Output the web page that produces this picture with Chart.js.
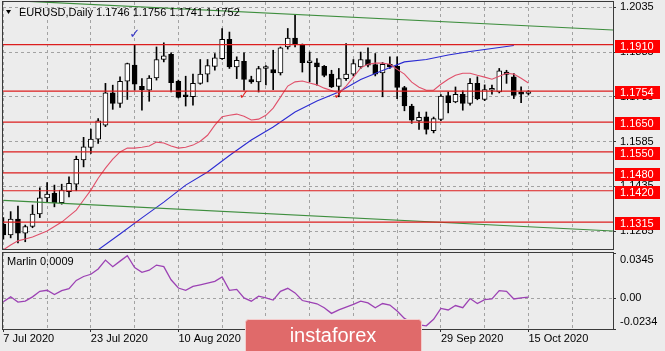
<!DOCTYPE html>
<html><head><meta charset="utf-8">
<script src="https://cdn.jsdelivr.net/npm/chart.js@4.4.1/dist/chart.umd.min.js"></script>
<style>
html,body{margin:0;padding:0;background:#ececec;width:665px;height:351px;overflow:hidden}
canvas{position:absolute;left:0;display:block}
#c1{top:0}
#c2{top:251px}
</style></head><body>
<canvas id="c1" width="665" height="251"></canvas>
<canvas id="c2" width="665" height="100"></canvas>
<script>
// ---- data ----
const opens  = [1.1308,1.1272,1.1325,1.1278,1.1300,1.1342,1.1396,1.1411,1.1380,1.1417,1.1442,1.1523,1.1565,1.1593,1.1640,1.1748,1.1713,1.1787,1.1841,1.1770,1.1757,1.1798,1.1860,1.1877,1.1787,1.1737,1.1735,1.1780,1.1811,1.1837,1.1863,1.1928,1.1835,1.1854,1.1793,1.1785,1.1830,1.1826,1.1815,1.1902,1.1932,1.1908,1.1849,1.1849,1.1837,1.1811,1.1770,1.1796,1.1811,1.1835,1.1860,1.1843,1.1815,1.1844,1.1837,1.1766,1.1704,1.1654,1.1668,1.1621,1.1659,1.1739,1.1718,1.1743,1.1713,1.1780,1.1726,1.1757,1.1751,1.1818,1.1802,1.1746,1.1746];
const highs  = [1.1330,1.1350,1.1369,1.1305,1.1372,1.1430,1.1447,1.1439,1.1442,1.1467,1.1536,1.1599,1.1627,1.1662,1.1780,1.1774,1.1802,1.1848,1.1908,1.1796,1.1806,1.1902,1.1916,1.1882,1.1791,1.1804,1.1811,1.1860,1.1860,1.1880,1.1964,1.1952,1.1869,1.1882,1.1804,1.1837,1.1840,1.1891,1.1902,1.1964,1.2008,1.1912,1.1885,1.1863,1.1840,1.1824,1.1830,1.1913,1.1860,1.1885,1.1899,1.1880,1.1850,1.1869,1.1869,1.1770,1.1710,1.1684,1.1684,1.1667,1.1742,1.1751,1.1768,1.1755,1.1796,1.1802,1.1775,1.1774,1.1830,1.1824,1.1813,1.1768,1.1756];
const lows   = [1.1258,1.1262,1.1245,1.1249,1.1296,1.1330,1.1383,1.1366,1.1375,1.1399,1.1420,1.1500,1.1545,1.1579,1.1635,1.1693,1.1699,1.1726,1.1757,1.1690,1.1720,1.1791,1.1852,1.1751,1.1731,1.1704,1.1707,1.1777,1.1785,1.1824,1.1860,1.1830,1.1796,1.1757,1.1780,1.1751,1.1775,1.1759,1.1808,1.1895,1.1902,1.1818,1.1785,1.1774,1.1802,1.1766,1.1735,1.1790,1.1805,1.1830,1.1835,1.1805,1.1735,1.1830,1.1729,1.1688,1.1646,1.1626,1.1610,1.1614,1.1655,1.1681,1.1715,1.1690,1.1707,1.1725,1.1722,1.1744,1.1748,1.1780,1.1729,1.1715,1.1741];
const closes = [1.1272,1.1325,1.1278,1.1300,1.1342,1.1396,1.1409,1.1380,1.1422,1.1445,1.1525,1.1567,1.1593,1.1654,1.1748,1.1713,1.1787,1.1846,1.1777,1.1759,1.1798,1.1860,1.1872,1.1782,1.1733,1.1735,1.1780,1.1811,1.1840,1.1866,1.1928,1.1835,1.1857,1.1793,1.1785,1.1830,1.1833,1.1815,1.1899,1.1932,1.1910,1.1849,1.1851,1.1835,1.1807,1.1768,1.1796,1.1811,1.1846,1.1860,1.1841,1.1811,1.1844,1.1835,1.1766,1.1704,1.1657,1.1666,1.1626,1.1662,1.1737,1.1715,1.1743,1.1713,1.1780,1.1729,1.1759,1.1758,1.1822,1.1810,1.1740,1.1744,1.1752];
const redLine = [1.1222,1.1238,1.1252,1.1258,1.1265,1.1275,1.1285,1.1300,1.1315,1.1335,1.1355,1.1389,1.1422,1.1462,1.1496,1.1526,1.1550,1.1563,1.1563,1.1566,1.1570,1.1583,1.1580,1.1570,1.1563,1.1566,1.1573,1.1586,1.1606,1.1640,1.1668,1.1673,1.1677,1.1670,1.1657,1.1660,1.1673,1.1697,1.1734,1.1771,1.1785,1.1788,1.1781,1.1775,1.1764,1.1756,1.1748,1.1771,1.1801,1.1832,1.1844,1.1848,1.1848,1.1844,1.1827,1.1811,1.1784,1.1767,1.1757,1.1757,1.1777,1.1794,1.1807,1.1814,1.1814,1.1807,1.1801,1.1794,1.1804,1.1814,1.1811,1.1797,1.1781];
const blueBars = [13,16,19,22,25,28,31,34,37,40,43,46,49,52,55,58,61,64,67,70];
const blueVals = [1.1222,1.1275,1.1329,1.1382,1.1439,1.1483,1.1538,1.1590,1.1634,1.1684,1.1721,1.1751,1.1793,1.1823,1.1852,1.1860,1.1875,1.1887,1.1897,1.1907];
const marlin = [-0.0027,0.0011,-0.0029,-0.0022,0.0011,0.0053,0.0061,0.0028,0.0058,0.0073,0.0136,0.0166,0.0183,0.0223,0.0291,0.0241,0.0283,0.0324,0.0234,0.0198,0.0214,0.0253,0.0241,0.0141,0.0078,0.0061,0.0091,0.0103,0.0116,0.0129,0.0163,0.0061,0.0068,0.0003,-0.0022,0.0016,0.0003,-0.0014,0.0053,0.0076,0.0041,-0.0017,-0.0029,-0.0042,-0.0072,-0.0115,-0.0089,-0.0067,-0.0047,-0.0022,-0.0035,-0.0072,-0.0040,-0.0052,-0.0097,-0.0153,-0.0185,-0.0202,-0.0210,-0.0160,-0.0077,-0.0089,-0.0055,-0.0072,-0.0002,-0.0040,-0.0010,-0.0005,0.0058,0.0053,-0.0005,0.0003,0.0009];
const levels = [1.1910,1.1754,1.1650,1.1550,1.1480,1.1420,1.1315];
const upperTrend = [[0,1.2059],[83.6,1.1959]];
const lowerTrend = [[0,1.1388],[83.6,1.1285]];
const blueChecks = [[18,1.1944]];
const redChecks = [[33,1.1738],[46,1.1738]];
const priceTicks = [1.1285,1.1435,1.1585,1.1735,1.1885,1.2035];
const marlinTicks = [-0.0234,0,0.0345];
const dateLabels = ['7 Jul 2020','23 Jul 2020','10 Aug 2020','26 Aug 2020','11 Sep 2020','29 Sep 2020','15 Oct 2020'];
const titleText = 'EURUSD,Daily 1.1746 1.1756 1.1741 1.1752';
const marlinTitle = 'Marlin 0.0009';

// ---- styling ----
const FONT = '"Liberation Sans", Arial, sans-serif';
Chart.defaults.font.family = FONT;
Chart.defaults.font.size = 11;
Chart.defaults.color = '#000';
const X_MIN = -0.05, X_MAX = 83.6;
const GRID = '#a2a2a2';
const DASH = [3, 3];
const noPad = s => { s.paddingTop = 0; s.paddingBottom = 0; s.paddingLeft = 0; s.paddingRight = 0; };

const frame = {
  id: 'frame',
  afterDraw(chart) {
    const {ctx, chartArea: a} = chart;
    ctx.save();
    ctx.strokeStyle = '#3a3a3a'; ctx.lineWidth = 1;
    ctx.strokeRect(Math.round(a.left) - 0.5, Math.round(a.top) - 0.5, Math.round(a.right - a.left) + 1, Math.round(a.bottom - a.top) + 1);
    ctx.restore();
  }
};

const mainDeco = {
  id: 'mainDeco',
  afterDatasetsDraw(chart) {
    const {ctx} = chart, xs = chart.scales.x, ys = chart.scales.y;
    ctx.save();
    ctx.font = 'bold 13px "DejaVu Sans"'; ctx.textAlign = 'center'; ctx.textBaseline = 'middle';
    ctx.fillStyle = '#3535c8';
    blueChecks.forEach(([i, p]) => ctx.fillText('\u2713', xs.getPixelForValue(i), ys.getPixelForValue(p)));
    ctx.fillStyle = '#e02020';
    redChecks.forEach(([i, p]) => ctx.fillText('\u2713', xs.getPixelForValue(i), ys.getPixelForValue(p)));
    ctx.restore();
  },
  afterDraw(chart) {
    const {ctx, chartArea: a} = chart, ys = chart.scales.y;
    ctx.save();
    ctx.fillStyle = '#000';
    ctx.beginPath(); ctx.moveTo(6, 10); ctx.lineTo(11, 10); ctx.lineTo(8.5, 14); ctx.closePath(); ctx.fill();
    ctx.font = '11px ' + FONT; ctx.textBaseline = 'middle'; ctx.textAlign = 'left';
    ctx.fillText(titleText, 19, 12.5);
    levels.forEach(l => {
      const y = Math.round(ys.getPixelForValue(l));
      ctx.fillStyle = '#ff0000';
      ctx.fillRect(a.right + 2, y - 5, 45, 13);
      ctx.fillStyle = '#ffffff';
      ctx.fillText(l.toFixed(4), a.right + 7, y + 1.5);
    });
    ctx.restore();
  }
};

const levelSets = levels.map(l => ({
  type: 'line', data: [{x: X_MIN - 1, y: l}, {x: X_MAX + 1, y: l}],
  borderColor: '#dc1e1e', borderWidth: 1.2, pointRadius: 0, order: 1
}));

const trendSet = (pts) => ({
  type: 'line', data: pts.map(([i, p]) => ({x: i, y: p})),
  borderColor: '#3e8e3e', borderWidth: 1.2, pointRadius: 0, order: 2
});

const gridOpts = (extra) => Object.assign({display: true, drawOnChartArea: true, color: GRID, lineWidth: 1, offset: false}, extra);

new Chart(document.getElementById('c1'), {
  type: 'bar',
  data: {
    datasets: [
      { data: lows.map((l, i) => ({x: i, y: [l, highs[i]]})), backgroundColor: '#000', borderWidth: 0,
        barThickness: 1, grouped: false, order: 6 },
      { data: opens.map((o, i) => ({x: i, y: [o, closes[i]]})),
        backgroundColor: opens.map((o, i) => closes[i] >= o ? '#ffffff' : '#000000'),
        borderColor: '#000', borderWidth: 1, borderSkipped: false, barThickness: 5, minBarLength: 2,
        grouped: false, order: 5 },
      { type: 'line', data: redLine.map((v, i) => ({x: i, y: v})), borderColor: '#e0506a', borderWidth: 1.1, pointRadius: 0, order: 3 },
      { type: 'line', data: blueBars.map((i, k) => ({x: i, y: blueVals[k]})), borderColor: '#2b2bd2', borderWidth: 1.1, pointRadius: 0, order: 3 },
      trendSet(upperTrend), trendSet(lowerTrend),
      ...levelSets
    ]
  },
  options: {
    responsive: false, animation: false, events: [],
    layout: {padding: {left: 3, top: 2, right: 0, bottom: 2}},
    plugins: {legend: {display: false}, tooltip: {enabled: false}},
    scales: {
      x: { type: 'linear', display: true, min: X_MIN, max: X_MAX, offset: false,
        ticks: {display: false, stepSize: 6, includeBounds: false},
        grid: gridOpts({drawTicks: false}),
        border: {display: false, dash: DASH},
        afterFit: s => { s.height = 0; noPad(s); } },
      y: { position: 'right', min: 1.12247, max: 1.20528,
        afterBuildTicks: s => { s.ticks = priceTicks.map(v => ({value: v})); },
        ticks: {callback: v => v.toFixed(4), padding: 4, color: '#000', font: {size: 11}},
        grid: gridOpts({tickLength: 3, tickColor: '#333'}),
        border: {display: false, dash: DASH},
        afterFit: s => { s.width = 52; noPad(s); } }
    }
  },
  plugins: [frame, mainDeco]
});

const lowerDeco = {
  id: 'lowerDeco',
  afterDraw(chart) {
    const {ctx} = chart;
    ctx.save();
    ctx.fillStyle = '#000'; ctx.font = '11px ' + FONT; ctx.textBaseline = 'middle'; ctx.textAlign = 'left';
    ctx.fillText(marlinTitle, 7, 11);
    ctx.beginPath();
    if (ctx.roundRect) ctx.roundRect(245.5, 68.5, 176, 40, 3); else ctx.rect(245.5, 68.5, 176, 40);
    ctx.fillStyle = '#e06a6a'; ctx.fill();
    ctx.strokeStyle = '#f4cccc'; ctx.lineWidth = 1; ctx.stroke();
    ctx.fillStyle = '#ffffff'; ctx.font = '20px ' + FONT; ctx.textAlign = 'center'; ctx.textBaseline = 'alphabetic';
    ctx.fillText('instaforex', 333, 90.5);
    ctx.restore();
  }
};

new Chart(document.getElementById('c2'), {
  type: 'line',
  data: { datasets: [{ data: marlin.map((v, i) => ({x: i, y: v})), borderColor: '#9c42b4', borderWidth: 1.3, pointRadius: 0 }] },
  options: {
    responsive: false, animation: false, events: [],
    layout: {padding: {left: 3, top: 2, right: 0, bottom: 0}},
    plugins: {legend: {display: false}, tooltip: {enabled: false}},
    scales: {
      x: { type: 'linear', min: X_MIN, max: X_MAX, offset: false,
        ticks: {stepSize: 6, includeBounds: false, autoSkip: false, maxRotation: 0, align: 'start', padding: 0,
          color: '#000', font: {size: 11},
          callback: v => (v % 12 === 0 ? (dateLabels[v / 12] || '') : '')},
        grid: gridOpts({tickLength: 3,
          tickColor: c => (c.tick && c.tick.value % 12 === 0) ? '#333' : 'rgba(0,0,0,0)'}),
        border: {display: false, dash: DASH},
        afterFit: s => { s.height = 22; noPad(s); } },
      y: { position: 'right', min: -0.0234, max: 0.0345,
        afterBuildTicks: s => { s.ticks = marlinTicks.map(v => ({value: v})); },
        ticks: {padding: 4, color: '#000', font: {size: 11},
          callback: v => v === 0 ? '0.00' : (v > 0 ? ['', v.toFixed(4)] : [v.toFixed(4), ''])},
        grid: gridOpts({color: c => (c.tick && c.tick.value === 0) ? GRID : 'rgba(0,0,0,0)', tickLength: 3, tickColor: '#333'}),
        border: {display: false, dash: DASH},
        afterFit: s => { s.width = 52; noPad(s); } }
    }
  },
  plugins: [frame, lowerDeco]
});
</script>
</body></html>
